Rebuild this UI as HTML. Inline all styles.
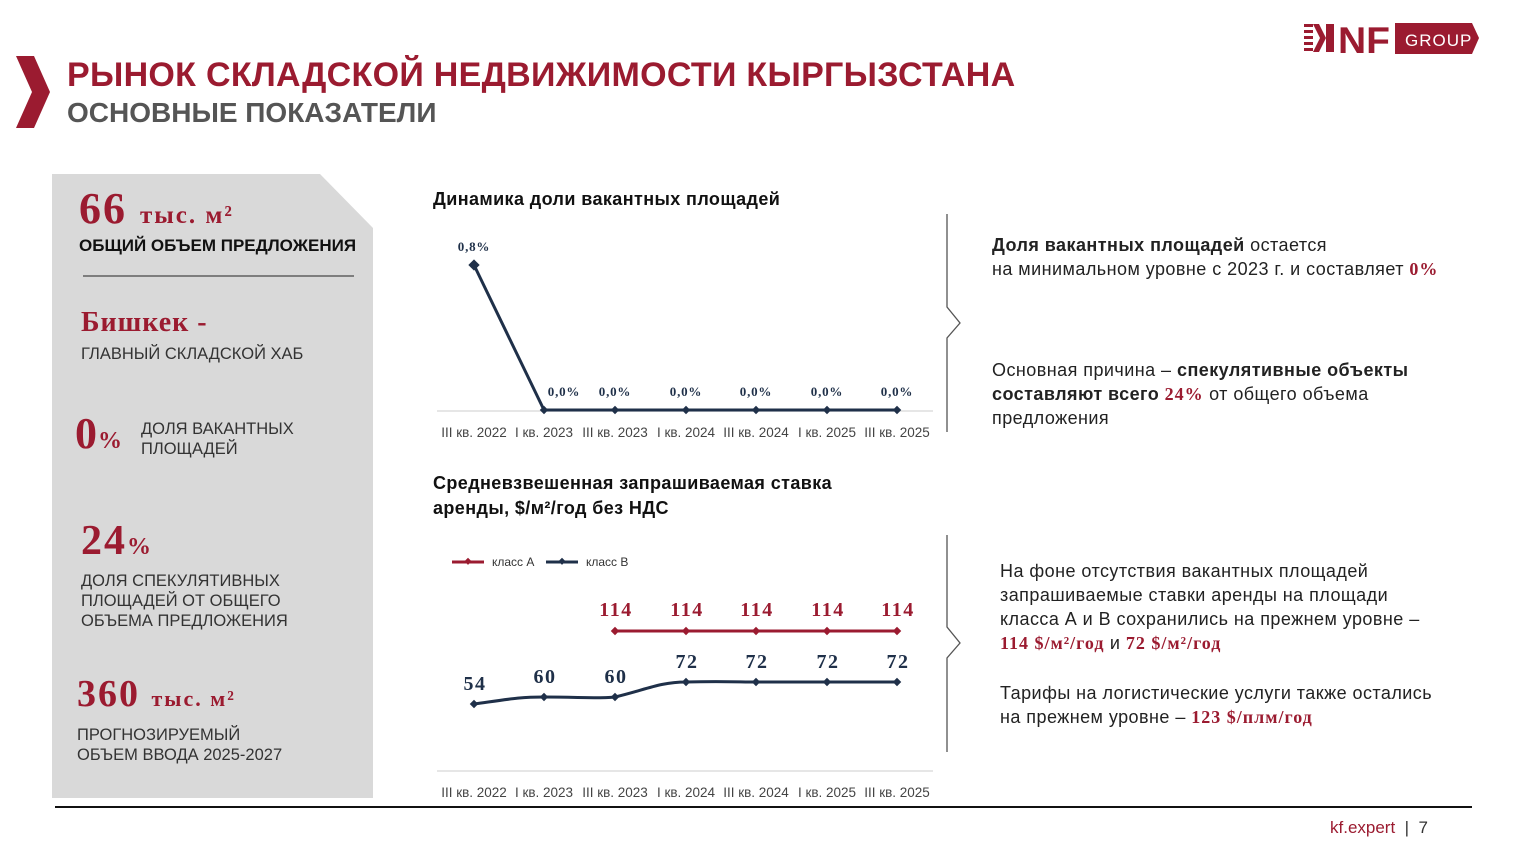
<!DOCTYPE html>
<html><head><meta charset="utf-8"><style>
body{margin:0;width:1515px;height:852px;background:#fff;position:relative;overflow:hidden;font-family:"Liberation Sans","DejaVu Sans",sans-serif;}
.a{position:absolute;white-space:nowrap;}
.red{color:#9b1b30}
.ser{font-family:"Liberation Serif","DejaVu Serif",serif;font-weight:bold;letter-spacing:1px}
.t{font-size:18px;color:#222;line-height:24px;letter-spacing:0.45px}
.p{font-size:16.5px;color:#333;line-height:20px}
</style></head><body>
<svg class="a" style="left:0;top:0" width="1515" height="852">
<polygon points="16,56 34,56 50,92 34,128 16,128 32,92" fill="#9b1b30"/>
<polygon points="52,174 320,174 373,228 373,798 52,798" fill="#d9d9d9"/>
<line x1="83" y1="276" x2="354" y2="276" stroke="#222" stroke-width="1"/>
<line x1="55" y1="807" x2="1472" y2="807" stroke="#111" stroke-width="2"/>
<g fill="#9b1b30">
<rect x="1304" y="24" width="9" height="3"/><rect x="1304" y="30" width="9" height="3"/><rect x="1304" y="36" width="9" height="3"/><rect x="1304" y="42" width="9" height="3"/><rect x="1304" y="48" width="9" height="3"/>
<polygon points="1313,24 1319,24 1326,38 1319,52 1313,52 1320,38"/>
<rect x="1326" y="24" width="8" height="28"/>
<text x="1338" y="53" font-family="Liberation Sans" font-weight="bold" font-size="37" textLength="52" lengthAdjust="spacingAndGlyphs">NF</text>
<polygon points="1395,23 1472,23 1479,38 1472,54 1395,54"/>
</g>
<text x="1405" y="46" fill="#fff" font-size="17" letter-spacing="1">GROUP</text>
<polyline points="947,214 947,307 960,323 947,338 947,432" fill="none" stroke="#555" stroke-width="1.3"/>
<polyline points="947,535 947,627 960,643 947,658 947,752" fill="none" stroke="#555" stroke-width="1.3"/>
<line x1="437" y1="411" x2="933" y2="411" stroke="#ddd" stroke-width="1.5"/>
<polyline points="474,265 544,410 615,410 686,410 756,410 827,410 897,410" fill="none" stroke="#1f3049" stroke-width="3"/>
<g fill="#1f3049">
<rect x="470" y="261" width="8" height="8" transform="rotate(45 474 265)"/>
<rect x="541" y="407" width="6" height="6" transform="rotate(45 544 410)"/><rect x="612" y="407" width="6" height="6" transform="rotate(45 615 410)"/><rect x="683" y="407" width="6" height="6" transform="rotate(45 686 410)"/><rect x="753" y="407" width="6" height="6" transform="rotate(45 756 410)"/><rect x="824" y="407" width="6" height="6" transform="rotate(45 827 410)"/><rect x="894" y="407" width="6" height="6" transform="rotate(45 897 410)"/>
</g>
<g font-family="Liberation Serif" font-weight="bold" font-size="13" fill="#1f3049" text-anchor="middle" letter-spacing="0.8">
<text x="474" y="251">0,8%</text><text x="564" y="396">0,0%</text><text x="615" y="396">0,0%</text><text x="686" y="396">0,0%</text><text x="756" y="396">0,0%</text><text x="827" y="396">0,0%</text><text x="897" y="396">0,0%</text>
</g>
<g font-size="13.5" fill="#444" text-anchor="middle">
<text x="474" y="437">III кв. 2022</text><text x="544" y="437">I кв. 2023</text><text x="615" y="437">III кв. 2023</text><text x="686" y="437">I кв. 2024</text><text x="756" y="437">III кв. 2024</text><text x="827" y="437">I кв. 2025</text><text x="897" y="437">III кв. 2025</text>
</g>
<line x1="452" y1="562" x2="484" y2="562" stroke="#9b1b30" stroke-width="3"/><rect x="465" y="559" width="5" height="5" fill="#9b1b30" transform="rotate(45 468 562)"/>
<text x="492" y="566" font-size="12" fill="#333">класс А</text>
<line x1="546" y1="562" x2="578" y2="562" stroke="#1f3049" stroke-width="3"/><rect x="559" y="559" width="5" height="5" fill="#1f3049" transform="rotate(45 562 562)"/>
<text x="586" y="566" font-size="12" fill="#333">класс В</text>
<line x1="437" y1="771" x2="933" y2="771" stroke="#ddd" stroke-width="1.5"/>
<line x1="615" y1="631" x2="897" y2="631" stroke="#9b1b30" stroke-width="3"/>
<g fill="#9b1b30"><rect x="612" y="628" width="6" height="6" transform="rotate(45 615 631)"/><rect x="683" y="628" width="6" height="6" transform="rotate(45 686 631)"/><rect x="753" y="628" width="6" height="6" transform="rotate(45 756 631)"/><rect x="824" y="628" width="6" height="6" transform="rotate(45 827 631)"/><rect x="894" y="628" width="6" height="6" transform="rotate(45 897 631)"/></g>
<path d="M474,704 C510,699 520,697 544,697 C580,697 595,699 615,697 C645,690 660,682 686,682 C720,681 740,682 756,682 L897,682" fill="none" stroke="#1f3049" stroke-width="3"/>
<g fill="#1f3049"><rect x="471" y="701" width="6" height="6" transform="rotate(45 474 704)"/><rect x="541" y="694" width="6" height="6" transform="rotate(45 544 697)"/><rect x="612" y="694" width="6" height="6" transform="rotate(45 615 697)"/><rect x="683" y="679" width="6" height="6" transform="rotate(45 686 682)"/><rect x="753" y="679" width="6" height="6" transform="rotate(45 756 682)"/><rect x="824" y="679" width="6" height="6" transform="rotate(45 827 682)"/><rect x="894" y="679" width="6" height="6" transform="rotate(45 897 682)"/></g>
<g font-family="Liberation Serif" font-weight="bold" font-size="20" text-anchor="middle" letter-spacing="1.5">
<g fill="#9b1b30"><text x="616" y="616">114</text><text x="687" y="616">114</text><text x="757" y="616">114</text><text x="828" y="616">114</text><text x="898" y="616">114</text></g>
<g fill="#1f3049"><text x="475" y="690">54</text><text x="545" y="683">60</text><text x="616" y="683">60</text><text x="687" y="668">72</text><text x="757" y="668">72</text><text x="828" y="668">72</text><text x="898" y="668">72</text></g>
</g>
<g font-size="13.5" fill="#444" text-anchor="middle">
<text x="474" y="797">III кв. 2022</text><text x="544" y="797">I кв. 2023</text><text x="615" y="797">III кв. 2023</text><text x="686" y="797">I кв. 2024</text><text x="756" y="797">III кв. 2024</text><text x="827" y="797">I кв. 2025</text><text x="897" y="797">III кв. 2025</text>
</g>
</svg>
<div class="a red" style="left:67px;top:56px;font-size:34px;font-weight:bold;letter-spacing:0.3px">РЫНОК СКЛАДСКОЙ НЕДВИЖИМОСТИ КЫРГЫЗСТАНА</div>
<div class="a" style="left:67px;top:97px;font-size:28px;font-weight:bold;color:#555">ОСНОВНЫЕ ПОКАЗАТЕЛИ</div>

<div class="a red ser" style="left:79px;top:183px;font-size:44px;letter-spacing:2px">66 <span style="font-size:25px">тыс. м²</span></div>
<div class="a" style="left:79px;top:236px;font-size:17px;font-weight:bold;color:#111">ОБЩИЙ ОБЪЕМ ПРЕДЛОЖЕНИЯ</div>
<div class="a red ser" style="left:81px;top:307px;font-size:28px">Бишкек -</div>
<div class="a p" style="left:81px;top:344px">ГЛАВНЫЙ СКЛАДСКОЙ ХАБ</div>
<div class="a red ser" style="left:75px;top:408px;font-size:44px">0<span style="font-size:24px">%</span></div>
<div class="a p" style="left:141px;top:419px">ДОЛЯ ВАКАНТНЫХ<br>ПЛОЩАДЕЙ</div>
<div class="a red ser" style="left:81px;top:517px;font-size:42px;letter-spacing:2px">24<span style="font-size:24px">%</span></div>
<div class="a p" style="left:81px;top:571px">ДОЛЯ СПЕКУЛЯТИВНЫХ<br>ПЛОЩАДЕЙ ОТ ОБЩЕГО<br>ОБЪЕМА ПРЕДЛОЖЕНИЯ</div>
<div class="a red ser" style="left:77px;top:672px;font-size:38px;letter-spacing:2px">360 <span style="font-size:22px">тыс. м²</span></div>
<div class="a p" style="left:77px;top:725px">ПРОГНОЗИРУЕМЫЙ<br>ОБЪЕМ ВВОДА 2025-2027</div>

<div class="a" style="left:433px;top:189px;font-size:18px;font-weight:bold;color:#111;letter-spacing:0.4px">Динамика доли вакантных площадей</div>
<div class="a" style="left:433px;top:471px;font-size:18px;font-weight:bold;color:#111;line-height:25px;letter-spacing:0.4px">Средневзвешенная запрашиваемая ставка<br>аренды, $/м²/год без НДС</div>

<div class="a t" style="left:992px;top:233px"><b>Доля вакантных площадей</b> остается<br>на минимальном уровне с 2023 г. и составляет <span class="red ser">0%</span></div>
<div class="a t" style="left:992px;top:358px">Основная причина – <b>спекулятивные объекты</b><br><b>составляют всего <span class="red ser">24%</span></b> от общего объема<br>предложения</div>
<div class="a t" style="left:1000px;top:559px">На фоне отсутствия вакантных площадей<br>запрашиваемые ставки аренды на площади<br>класса А и В сохранились на прежнем уровне –<br><span class="red ser">114 $/м²/год</span> и <span class="red ser">72 $/м²/год</span></div>
<div class="a t" style="left:1000px;top:681px">Тарифы на логистические услуги также остались<br>на прежнем уровне – <span class="red ser">123 $/плм/год</span></div>

<div class="a" style="left:1330px;top:818px;font-size:17px"><span class="red">kf.expert</span> <span style="color:#333">&nbsp;|&nbsp; 7</span></div>
</body></html>
